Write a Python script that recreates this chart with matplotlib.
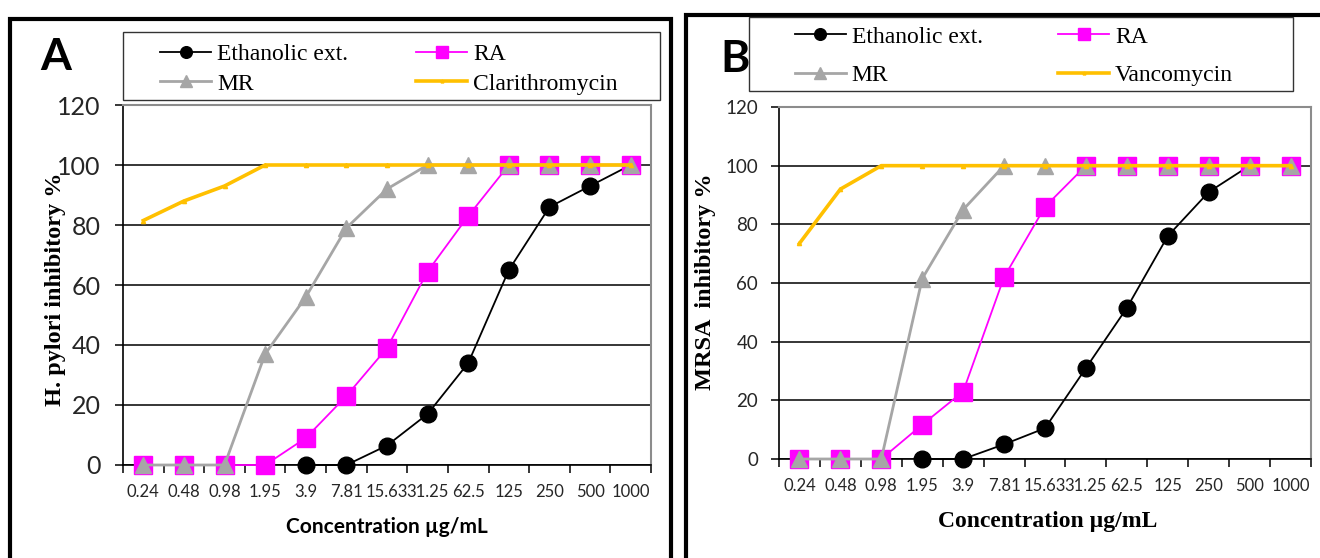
import numpy as np
import matplotlib.pyplot as plt
from matplotlib.patches import Rectangle

W, H = 1320, 558

conc = ['0.24', '0.48', '0.98', '1.95', '3.9', '7.81', '15.63', '31.25',
        '62.5', '125', '250', '500', '1000']
nan = np.nan

# Panel A - H. pylori
hp_ethanolic = [nan, nan, nan, nan, 0, 0, 6.5, 17, 34, 65, 86, 93, 100]
hp_ra = [0, 0, 0, 0, 9, 23, 39, 64.5, 83, 100, 100, 100, 100]
hp_mr = [0, 0, 0, 37, 56, 79, 92, 100, 100, 100, 100, 100, 100]
hp_clarithromycin = [81.5, 88, 93, 100, 100, 100, 100, 100, 100, 100, 100, 100, 100]

# Panel B - MRSA
mrsa_ethanolic = [nan, nan, nan, 0, 0, 5, 10.5, 31, 51.5, 76, 91, 100, 100]
mrsa_ra = [0, 0, 0, 11.7, 23, 62, 86, 100, 100, 100, 100, 100, 100]
mrsa_mr = [0, 0, 0, 61.5, 85, 100, 100, 100, 100, 100, 100, 100, 100]
mrsa_vancomycin = [73.5, 92, 100, 100, 100, 100, 100, 100, 100, 100, 100, 100, 100]

SANS = ['Lato', 'DejaVu Sans']
SERIF = ['Liberation Serif', 'DejaVu Serif']


def fx(x):
    return x / W


def fy(y):
    return 1 - y / H


def draw_panel(ax, eth, ra, mr, ref, ref_name, ytick_size, ypad):
    x = np.arange(len(conc))
    ax.plot(x, eth, color='black', marker='o', ms=12, lw=1.3, clip_on=False,
            zorder=3, label='Ethanolic ext.')
    ax.plot(x, ra, color='#FF00FF', marker='s', ms=13, lw=1.3, clip_on=False,
            zorder=3, label='RA')
    ax.plot(x, mr, color='#A6A6A6', marker='^', ms=12, lw=2, clip_on=False,
            zorder=3, label='MR')
    ax.plot(x, ref, color='#FFC000', marker='^', ms=3, lw=2.6, clip_on=False,
            zorder=3, label=ref_name)

    ax.set_xlim(-0.5, len(conc) - 0.5)
    ax.set_ylim(0, 120)
    ax.set_yticks(range(0, 121, 20))
    ax.yaxis.grid(True, color='black', lw=1.1)
    ax.set_axisbelow(True)

    ax.set_xticks(x)
    ax.set_xticklabels(conc, fontfamily=SANS, fontsize=12, color='#262626')
    ax.set_xticks(np.arange(-0.5, len(conc), 1), minor=True)
    ax.tick_params(axis='x', which='major', length=0, pad=14)
    ax.tick_params(axis='x', which='minor', length=6, width=1.1, color='black')
    ax.tick_params(axis='y', length=6, width=1.1, color='black', pad=ypad,
                   labelsize=ytick_size, labelcolor='#262626')
    for lab in ax.get_yticklabels():
        lab.set_fontfamily(SANS)

    for s in ['top', 'right']:
        ax.spines[s].set_color('#8C8C8C')
        ax.spines[s].set_linewidth(1.5)
    for s in ['left', 'bottom']:
        ax.spines[s].set_color('black')
        ax.spines[s].set_linewidth(1.2)


fig = plt.figure(figsize=(W / 100, H / 100), dpi=100)

axA = fig.add_axes([fx(123), fy(465), fx(651 - 123), (465 - 105) / H])
axB = fig.add_axes([fx(779), fy(459), fx(1311 - 779), (459 - 107) / H])

draw_panel(axA, hp_ethanolic, hp_ra, hp_mr, hp_clarithromycin,
           'Clarithromycin', 18, 10)
draw_panel(axB, mrsa_ethanolic, mrsa_ra, mrsa_mr, mrsa_vancomycin,
           'Vancomycin', 13.5, 9)

# panel borders
fig.patches.append(Rectangle((fx(10), fy(600)), fx(671 - 10), (600 - 19) / H,
                             transform=fig.transFigure, fill=False,
                             ec='black', lw=3))
fig.patches.append(Rectangle((fx(686), fy(600)), fx(1400 - 686), (600 - 15) / H,
                             transform=fig.transFigure, fill=False,
                             ec='black', lw=3))

# legends with separate frames; order so rows read Eth/RA, MR/ref
legend_boxes = [(axA, (123, 32, 660, 100), (389, 69), 0.35, 2.9),
                (axB, (749, 17, 1293, 91), (1014, 56), 0.7, 3.2)]
for ax, box, centre, lspace, cspace in legend_boxes:
    x0, y0, x1, y1 = box
    fig.patches.append(Rectangle((fx(x0), fy(y1)), fx(x1 - x0), (y1 - y0) / H,
                                 transform=fig.transFigure, fill=False,
                                 ec='#333333', lw=1))
    h, l = ax.get_legend_handles_labels()
    order = [0, 2, 1, 3]
    fig.legend([h[i] for i in order], [l[i] for i in order], ncol=2,
               loc='center', bbox_to_anchor=(fx(centre[0]), fy(centre[1])),
               frameon=False, markerscale=0.7, handlelength=2.15,
               handletextpad=0.25, columnspacing=cspace, labelspacing=lspace,
               prop={'family': SERIF, 'size': 17})

# axis labels
fig.text(fx(56), fy(289), 'H. pylori inhibitory %', rotation=90,
         ha='center', va='center', fontfamily=SERIF, fontweight='bold',
         fontsize=17.5)
fig.text(fx(706), fy(282), 'MRSA  inhibitory %', rotation=90,
         ha='center', va='center', fontfamily=SERIF, fontweight='bold',
         fontsize=17.5)
fig.text(fx(387), fy(527), 'Concentration µg/mL', ha='center', va='center',
         fontfamily=SANS, fontweight='bold', fontsize=15)
fig.text(fx(1048), fy(521), 'Concentration µg/mL', ha='center', va='center',
         fontfamily=SERIF, fontweight='bold', fontsize=17)

# panel letters
fig.text(fx(56), fy(57), 'A', ha='center', va='center', fontfamily=SANS,
         fontweight='bold', fontsize=32)
fig.text(fx(735), fy(59), 'B', ha='center', va='center', fontfamily=SANS,
         fontweight='bold', fontsize=32)

fig.savefig('out.png', dpi=100)
